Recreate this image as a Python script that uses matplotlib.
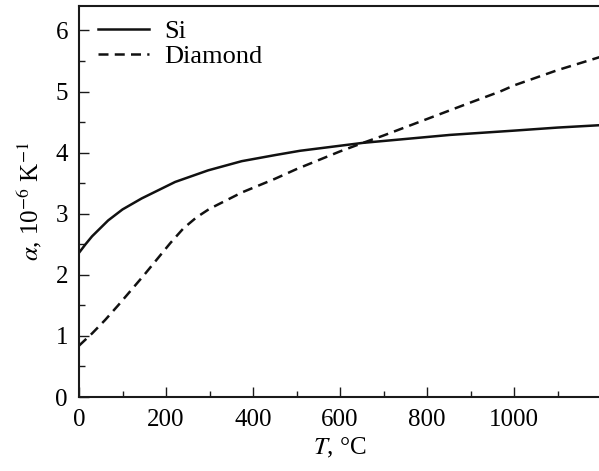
import matplotlib
matplotlib.use('Agg')
import matplotlib.pyplot as plt
from matplotlib.ticker import MultipleLocator, FixedLocator

# Data
T_si = [0, 15, 30, 67, 100, 144, 221, 297, 374, 451, 508, 653, 853, 1000, 1100, 1200]
a_si = [2.36, 2.50, 2.63, 2.89, 3.07, 3.25, 3.52, 3.71, 3.86, 3.96, 4.03, 4.16, 4.29, 4.36, 4.41, 4.45]

T_dia = [0, 30, 60, 90, 120, 150, 180, 210, 240, 270, 300, 375, 450, 500, 600, 653,
         700, 800, 900, 968, 1000, 1100, 1200]
a_dia = [0.84, 1.04, 1.26, 1.50, 1.75, 2.00, 2.26, 2.52, 2.76, 2.94, 3.08, 3.35, 3.57, 3.73,
         4.02, 4.16, 4.28, 4.55, 4.82, 5.00, 5.10, 5.35, 5.57]

x_ticks = [0, 200, 400, 600, 800, 1000]

plt.rcParams['font.family'] = ['Liberation Serif', 'DejaVu Serif']
plt.rcParams['mathtext.fontset'] = 'stix'
plt.rcParams['font.size'] = 18

fig = plt.figure(figsize=(5.99, 4.71), dpi=100)
ax = fig.add_axes([79/599, 1 - 397/471, 522/599, 391/471])

ax.plot(T_si, a_si, color='#111111', linewidth=1.8, label='Si')
ax.plot(T_dia, a_dia, color='#111111', linewidth=1.8, dashes=(4, 2.5), label='Diamond')

ax.set_xlim(0, 1200)
ax.set_ylim(0, 6.4)
ax.xaxis.set_major_locator(FixedLocator(x_ticks))
ax.xaxis.set_minor_locator(MultipleLocator(100))
ax.yaxis.set_major_locator(MultipleLocator(1))
ax.yaxis.set_minor_locator(MultipleLocator(0.5))
ax.tick_params(which='both', direction='in', top=False, right=False, width=1.0, color='#1a1a1a')
ax.tick_params(which='major', length=7)
ax.tick_params(which='minor', length=4.5)
ax.tick_params(axis='x', which='major', pad=9)
ax.tick_params(axis='y', which='major', pad=8)
for side in ['left', 'bottom', 'top']:
    ax.spines[side].set_linewidth(1.5)
    ax.spines[side].set_color('#1a1a1a')
ax.spines['right'].set_visible(False)

ax.set_xlabel(r'$T$, °C', labelpad=3)
ax.set_ylabel(r'$\alpha$, 10$^{-6}$ K$^{-1}$', labelpad=8)

ax.legend(loc='upper left', frameon=False, fontsize=19, handlelength=1.95, handletextpad=0.57,
          labelspacing=0.06, borderaxespad=0.0, bbox_to_anchor=(0.0155, 0.992))

plt.savefig('out.png', dpi=100, facecolor='white')
